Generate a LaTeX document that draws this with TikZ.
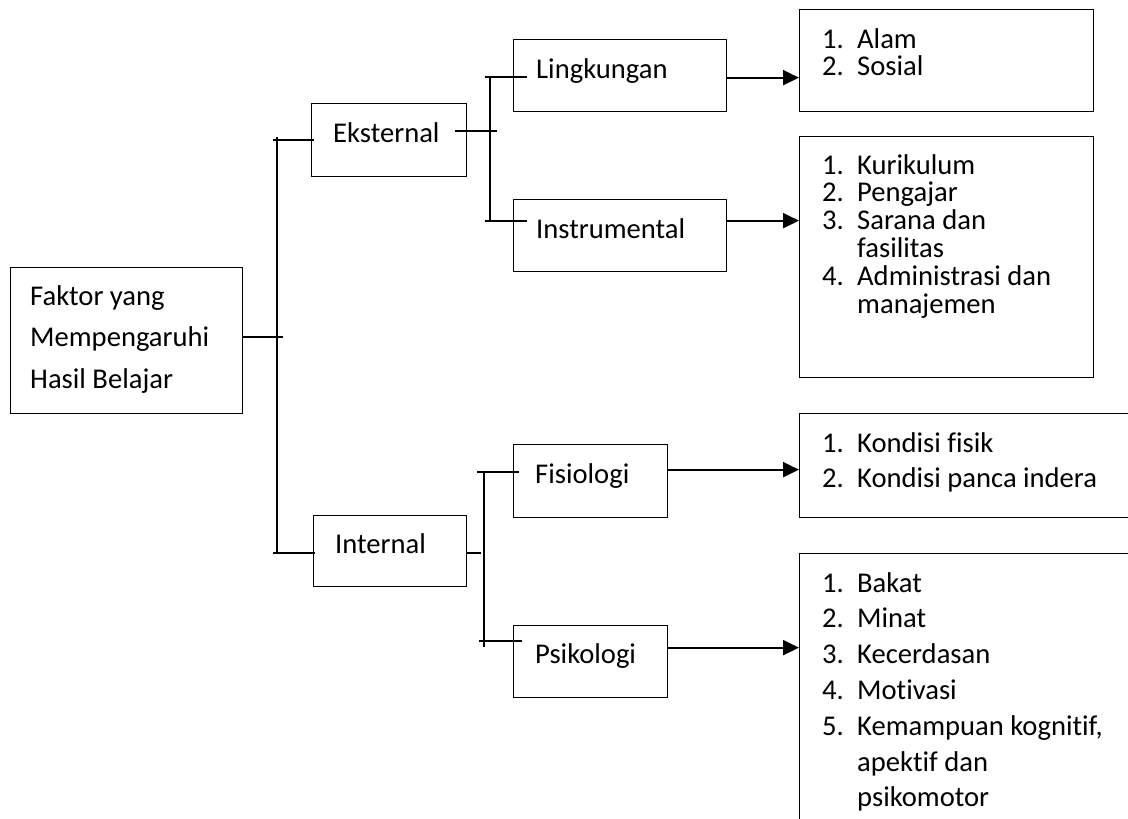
\documentclass[tikz,border=0pt]{standalone}
\usepackage{fontspec}
\setmainfont{Carlito}[Ligatures=NoCommon]
\usetikzlibrary{arrows.meta}

\tikzset{
  kotak/.style={draw, line width=1.3pt, inner sep=0pt, anchor=north west},
  teks/.style={inner sep=0pt, anchor=base west, font=\fontsize{28.6}{34}\selectfont},
  garis/.style={line width=2pt},
  panah/.style={line width=2pt, -{Triangle[length=16pt,width=15pt]}},
}

\newcommand{\buatkotak}[5]{ % nama, kiri, atas, kanan, bawah
  \node[kotak, minimum width=#4-#2, minimum height=#5-#3] (#1) at (#2,#3) {};
}

\newcommand{\daftar}[4]{ % nama, baris pertama, jarak baris, isi
  \foreach \no/\isi [count=\i] in {#4}{
    \node[teks] (#1-\i) at (822,{#2+(\i-1)*#3}) {\makebox[35pt][l]{\no}\isi};
  }
}

\begin{document}
\begin{tikzpicture}[x=1pt, y=-1pt]

\useasboundingbox (0,0) rectangle (1128,819);
\clip (0,0) rectangle (1128,819);

\buatkotak{akar}{10}{267}{242}{413}
\buatkotak{eks}{311}{103}{466}{176}
\buatkotak{int}{313}{515}{466}{586}
\buatkotak{ling}{513}{39}{726}{111}
\buatkotak{ins}{513}{199}{726}{271}
\buatkotak{fis}{513}{444}{667}{517}
\buatkotak{psi}{513}{625}{667}{697}
\buatkotak{alam}{799}{9}{1093}{111}
\buatkotak{kur}{799}{136}{1093}{377}
\buatkotak{kon}{799}{413}{1135}{517}
\buatkotak{psm}{799}{553}{1135}{840}

\foreach \isi/\y [count=\i] in {Faktor yang/305, Mempengaruhi/346, Hasil Belajar/388}
    \node[teks] (akar-\i) at (30,\y) {\isi};

\node[teks] (eks-t) at (333,142) {Eksternal};
\node[teks] (int-t) at (335,553) {Internal};
\node[teks] (ling-t) at (536,78) {Lingkungan};
\node[teks] (ins-t) at (536,238) {Instrumental};
\node[teks] (fis-t) at (535,483) {Fisiologi};
\node[teks] (psi-t) at (535,663) {Psikologi};

\daftar{alam}{48}{27.5}{1./Alam, 2./Sosial}
\daftar{kur}{174}{27.8}{1./Kurikulum, 2./Pengajar, 3./Sarana dan, /fasilitas, 4./Administrasi dan, /manajemen}
\daftar{kon}{452}{35.5}{1./Kondisi fisik, 2./Kondisi panca indera}
\daftar{psm}{592}{35.8}{1./Bakat, 2./Minat, 3./Kecerdasan, 4./Motivasi, 5./Kemampuan kognitif{,}, /apektif dan, /psikomotor}

% kurung utama
\coordinate (a1) at (283,337);
\coordinate (b-atas) at (277,137);
\coordinate (b-bawah) at (277,554);
\coordinate (b-eks) at (273,140);
\coordinate (e-eks) at (314,140);
\coordinate (b-int) at (273,553);
\coordinate (e-int) at (315,553);

\draw[garis] (akar.east |- a1) -- (a1);
\draw[garis] (b-atas) -- (b-bawah);
\draw[garis] (b-eks) -- (e-eks);
\draw[garis] (b-int) -- (e-int);

% kurung eksternal
\coordinate (c-eks) at (455,131);
\coordinate (d-eks) at (497,131);
\draw[garis] (c-eks) -- (d-eks);
\draw[garis] (490,76) coordinate (k-atas) -- (490,221) coordinate (k-bawah);
\draw[garis] (485,77) coordinate (k-ling) -- (527,77);
\draw[garis] (485,221) coordinate (k-ins) -- (527,221);

% kurung internal
\coordinate (d-int) at (481,553);
\draw[garis] (int.east |- d-int) -- (d-int);
\draw[garis] (484,472) coordinate (m-atas) -- (484,647) coordinate (m-bawah);
\draw[garis] (477,472) coordinate (m-fis) -- (519,472);
\draw[garis] (479,641) coordinate (m-psi) -- (522,641);

\draw[panah] ([yshift=-2pt]ling.east) -- ([yshift=-2pt]ling.east -| alam.west);
\draw[panah] ([yshift=15pt]ins.east) -- ([yshift=15pt]ins.east -| kur.west);
\draw[panah] ([yshift=11.5pt]fis.east) -- ([yshift=11.5pt]fis.east -| kon.west);
\draw[panah] ([yshift=14pt]psi.east) -- ([yshift=14pt]psi.east -| psm.west);

\end{tikzpicture}
\end{document}
